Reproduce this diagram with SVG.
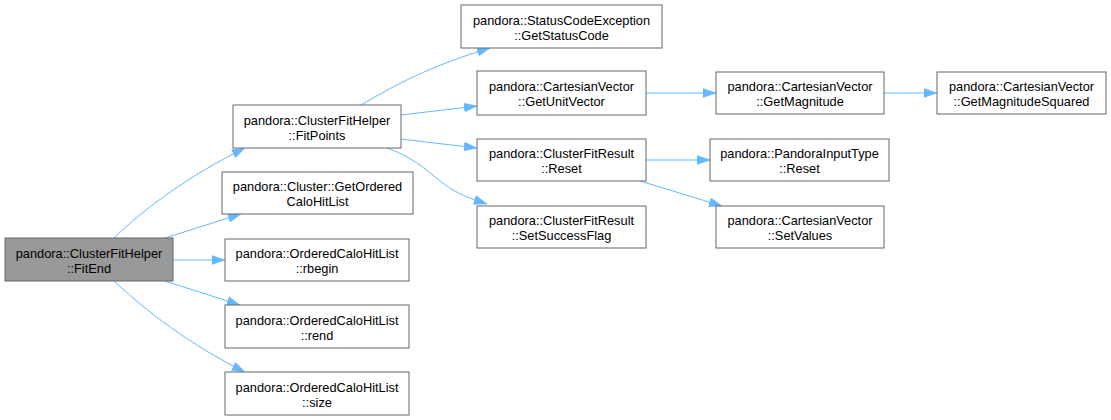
<svg xmlns="http://www.w3.org/2000/svg" width="1111" height="420" viewBox="0 0 1111 420">
<style>
.n rect{fill:#fff;stroke:#666;stroke-width:1}
.n.cur rect{fill:#999}
.n text{font-family:"Liberation Sans",Arial,sans-serif;font-size:12.8px;fill:#000;text-anchor:middle}
.e path{fill:none;stroke:#63b8ff;stroke-width:1;marker-end:url(#ah)}
</style>
<defs>
<marker id="ah" markerUnits="userSpaceOnUse" markerWidth="13" markerHeight="10" refX="13" refY="5" orient="auto">
<path d="M0,0.5 L13,5 L0,9.5 z" fill="#63b8ff" stroke="#63b8ff" stroke-width="0.5"/>
</marker>
</defs>
<rect width="1111" height="420" fill="#fff"/>
<g id="edges" class="e">
<path d="M114,238 C145,208 190,175 245,148"/>
<path d="M165,238 L241,214"/>
<path d="M173,260 L225,260"/>
<path d="M165,281 L240,305"/>
<path d="M114,281 C145,310 190,345 245,372"/>
<path d="M361,105 C395,85 430,66 490,48"/>
<path d="M401,115 L477,106"/>
<path d="M401,139 L477,148"/>
<path d="M387,148 C420,160 430,175 450,188 C462,196 475,200 487,204"/>
<path d="M646,93 L716,93"/>
<path d="M884,93 L937,93"/>
<path d="M646,160 L710,160"/>
<path d="M640,181 L722,206"/>
</g>
<g id="n_fitend" class="n cur"><rect x="5" y="238" width="168" height="43"/><text x="89" y="258">pandora::ClusterFitHelper</text><text x="89" y="273">::FitEnd</text></g>
<g id="n_fitpoints" class="n"><rect x="233" y="105" width="168" height="43"/><text x="317" y="125">pandora::ClusterFitHelper</text><text x="317" y="140">::FitPoints</text></g>
<g id="n_getordered" class="n"><rect x="222" y="172" width="191" height="42"/><text x="317.5" y="191">pandora::Cluster::GetOrdered</text><text x="317.5" y="206">CaloHitList</text></g>
<g id="n_rbegin" class="n"><rect x="225" y="239" width="184" height="42"/><text x="317" y="258">pandora::OrderedCaloHitList</text><text x="317" y="273">::rbegin</text></g>
<g id="n_rend" class="n"><rect x="225" y="305" width="184" height="43"/><text x="317" y="325">pandora::OrderedCaloHitList</text><text x="317" y="340">::rend</text></g>
<g id="n_size" class="n"><rect x="225" y="372" width="184" height="43"/><text x="317" y="392">pandora::OrderedCaloHitList</text><text x="317" y="407">::size</text></g>
<g id="n_statuscode" class="n"><rect x="461" y="5" width="201" height="43"/><text x="561.5" y="25">pandora::StatusCodeException</text><text x="561.5" y="40">::GetStatusCode</text></g>
<g id="n_unitvector" class="n"><rect x="477" y="71" width="169" height="44"/><text x="561.5" y="91">pandora::CartesianVector</text><text x="561.5" y="106">::GetUnitVector</text></g>
<g id="n_fitreset" class="n"><rect x="477" y="139" width="169" height="42"/><text x="561.5" y="158">pandora::ClusterFitResult</text><text x="561.5" y="173">::Reset</text></g>
<g id="n_success" class="n"><rect x="477" y="206" width="169" height="42"/><text x="561.5" y="225">pandora::ClusterFitResult</text><text x="561.5" y="240">::SetSuccessFlag</text></g>
<g id="n_magnitude" class="n"><rect x="716" y="72" width="168" height="42"/><text x="800" y="91">pandora::CartesianVector</text><text x="800" y="106">::GetMagnitude</text></g>
<g id="n_magsq" class="n"><rect x="937" y="72" width="169" height="42"/><text x="1021.5" y="91">pandora::CartesianVector</text><text x="1021.5" y="106">::GetMagnitudeSquared</text></g>
<g id="n_inputreset" class="n"><rect x="710" y="139" width="179" height="42"/><text x="799.5" y="158">pandora::PandoraInputType</text><text x="799.5" y="173">::Reset</text></g>
<g id="n_setvalues" class="n"><rect x="716" y="206" width="168" height="42"/><text x="800" y="225">pandora::CartesianVector</text><text x="800" y="240">::SetValues</text></g>
</svg>
